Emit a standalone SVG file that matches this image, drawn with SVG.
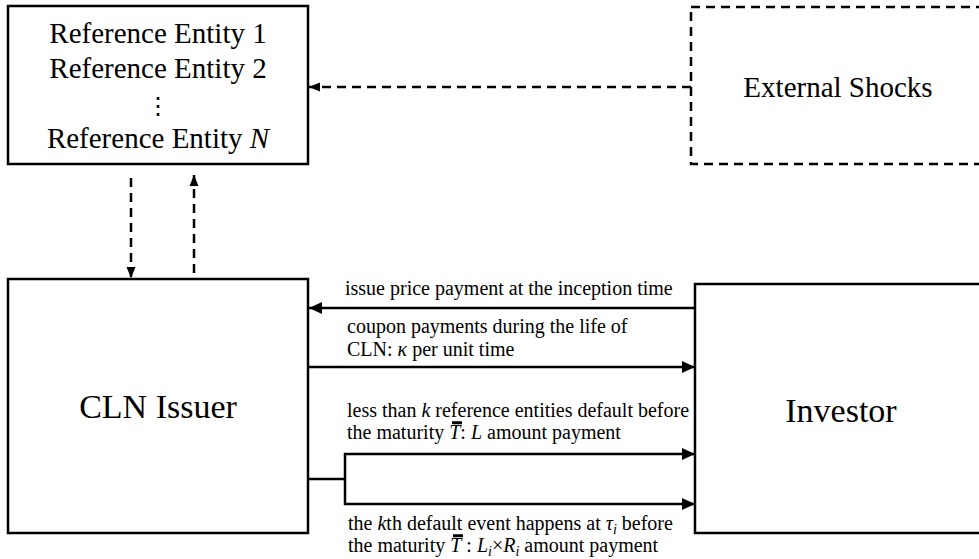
<svg xmlns="http://www.w3.org/2000/svg" width="979" height="559" viewBox="0 0 979 559" font-family="Liberation Serif, Tinos, DejaVu Serif, serif">
<style>
.box{fill:#fff;stroke:#000;stroke-width:2.5}
.dbox{fill:none;stroke:#000;stroke-width:2.5;stroke-dasharray:9 6}
.ln{fill:none;stroke:#000;stroke-width:2.5}
.dl{fill:none;stroke:#000;stroke-width:2.5;stroke-dasharray:9 6}
.bar{fill:none;stroke:#000;stroke-width:1.3}
.big{font-size:29px;fill:#000}
.huge{font-size:34px;fill:#000}
.lab{font-size:20px;fill:#000}
.it{font-style:italic}
.sub{font-size:14px;font-style:italic}
</style>
<defs>
<marker id="ah" markerUnits="userSpaceOnUse" markerWidth="14" markerHeight="12" refX="13" refY="6" orient="auto">
<path d="M0,0 L13,6 L0,12 Z" fill="#000"/>
</marker>
<marker id="ahs" markerUnits="userSpaceOnUse" markerWidth="12" markerHeight="10" refX="11" refY="5" orient="auto">
<path d="M0,0.5 L11,5 L0,9.5 Z" fill="#000"/>
</marker>
</defs>

<g id="reference-entities">
<rect class="box" x="8" y="6" width="300" height="158"/>
<text class="big" x="158" y="43" text-anchor="middle" font-family="Liberation Serif, DejaVu Serif, serif">Reference Entity 1</text>
<text class="big" x="158" y="78" text-anchor="middle" font-family="Liberation Serif, DejaVu Serif, serif">Reference Entity 2</text>
<text x="158" y="114" text-anchor="middle" font-family="DejaVu Serif, serif" font-size="24">⋮</text>
<text class="big" x="158" y="148" text-anchor="middle" font-family="Liberation Serif, DejaVu Serif, serif">Reference Entity <tspan class="it">N</tspan></text>
</g>

<g id="external-shocks">
<rect class="dbox" x="691" y="7" width="330" height="157"/>
<text class="big" x="838" y="97" text-anchor="middle" font-family="Liberation Serif, DejaVu Serif, serif">External Shocks</text>
</g>

<g id="cln-issuer">
<rect class="box" x="8" y="279" width="300" height="254"/>
<text class="huge" x="158" y="418" text-anchor="middle" font-family="Liberation Serif, DejaVu Serif, serif">CLN Issuer</text>
</g>

<g id="investor">
<rect class="box" x="695" y="284" width="320" height="249"/>
<text class="huge" x="841" y="422" text-anchor="middle" font-family="Liberation Serif, DejaVu Serif, serif">Investor</text>
</g>

<g id="connectors">
<path class="dl" d="M691,87 H309" marker-end="url(#ahs)"/>
<path class="dl" d="M131,178 V278" marker-end="url(#ahs)"/>
<path class="dl" d="M194,273 V175" marker-end="url(#ahs)"/>
<path class="ln" d="M695,308 H309" marker-end="url(#ah)"/>
<path class="ln" d="M308,367 H695" marker-end="url(#ah)"/>
<path class="ln" d="M308,479 H345 M345,453 V505"/>
<path class="ln" d="M344,454 H695" marker-end="url(#ah)"/>
<path class="ln" d="M344,504 H695" marker-end="url(#ah)"/>
</g>

<g id="labels" font-family="Liberation Serif, DejaVu Serif, serif">
<text class="lab" x="345" y="295">issue price payment at the inception time</text>
<text class="lab" x="347" y="333">coupon payments during the life of</text>
<text class="lab" x="347" y="356">CLN: <tspan class="it">κ</tspan> per unit time</text>
<text class="lab" x="347" y="417">less than <tspan class="it">k</tspan> reference entities default before</text>
<text class="lab" x="347" y="439">the maturity <tspan class="it">T</tspan>: <tspan class="it">L</tspan> amount payment</text>
<text class="lab" x="348" y="530">the <tspan class="it">k</tspan>th default event happens at <tspan class="it">τ</tspan><tspan class="sub" dy="4">i</tspan><tspan dy="-4"> before</tspan></text>
<text class="lab" x="348" y="552">the maturity <tspan class="it">T</tspan> : <tspan class="it">L</tspan><tspan class="sub" dy="4">i</tspan><tspan dy="-4">×</tspan><tspan class="it">R</tspan><tspan class="sub" dy="4">i</tspan><tspan dy="-4"> amount payment</tspan></text>
<path class="bar" d="M452,423.5 H462 M452,422 H462"/>
<path class="bar" d="M453,536.5 H463 M453,535 H463"/>
</g>
</svg>
